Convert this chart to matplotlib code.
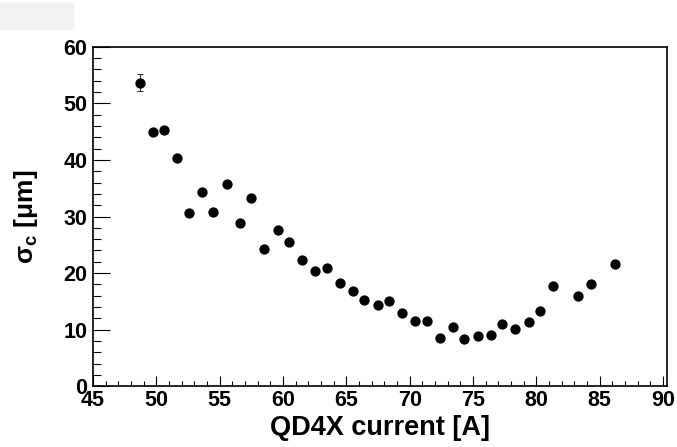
import matplotlib
matplotlib.use('Agg')
import matplotlib.pyplot as plt
from matplotlib.patches import Rectangle
from matplotlib.ticker import MultipleLocator

plt.rcParams['font.family'] = ['Liberation Sans', 'DejaVu Sans']
plt.rcParams['font.weight'] = 'bold'
plt.rcParams['mathtext.fontset'] = 'custom'
plt.rcParams['mathtext.bf'] = 'Liberation Sans:bold'
plt.rcParams['mathtext.rm'] = 'Liberation Sans:bold'

# QD4X current scan
current = [48.7, 49.7, 50.6, 51.6, 52.6, 53.6, 54.5, 55.6, 56.6, 57.5,
           58.5, 59.6, 60.5, 61.5, 62.5, 63.5, 64.5, 65.5, 66.4, 67.5,
           68.4, 69.4, 70.4, 71.4, 72.4, 73.4, 74.3, 75.4, 76.4, 77.3,
           78.3, 79.4, 80.3, 81.3, 83.3, 84.3, 86.2]
sigma_c = [53.6, 45.0, 45.3, 40.4, 30.6, 34.4, 30.8, 35.8, 28.8, 33.3,
           24.3, 27.7, 25.5, 22.3, 20.4, 20.9, 18.2, 16.8, 15.2, 14.4,
           15.0, 12.9, 11.5, 11.5, 8.6, 10.5, 8.3, 8.8, 9.0, 11.0,
           10.1, 11.3, 13.3, 17.7, 15.9, 18.1, 21.6]
sigma_err = [1.5] + [0.3] * (len(current) - 1)

xticks = [45, 50, 55, 60, 65, 70, 75, 80, 85, 90]
yticks = [0, 10, 20, 30, 40, 50, 60]

fig = plt.figure(figsize=(6.77, 4.47), dpi=100)
ax = fig.add_axes([0.1374, 0.1358, 0.8478, 0.7597])

# little grey box in the top left corner
fig.patches.append(Rectangle((0, 1 - 29/447), 73/677, 26/447,
                             transform=fig.transFigure, color='#f2f2f2',
                             zorder=0))

ax.errorbar(current, sigma_c, yerr=sigma_err, fmt='o', color='black',
            ecolor='#333333', elinewidth=0.8, capsize=2.5, capthick=0.8,
            markersize=6.4, zorder=3)

ax.set_xlim(45, 90.32)
ax.set_ylim(0, 60)
ax.set_xticks(xticks)
ax.set_yticks(yticks)
ax.xaxis.set_minor_locator(MultipleLocator(1))
ax.yaxis.set_minor_locator(MultipleLocator(2))

ax.tick_params(axis='both', which='both', direction='in', top=False, right=False,
               width=0.8, labelsize=15.5)
ax.tick_params(axis='y', which='major', length=12, pad=4)
ax.tick_params(axis='y', which='minor', length=6)
ax.tick_params(axis='x', which='major', length=7, pad=2.5)
ax.tick_params(axis='x', which='minor', length=3.6)
for sp in ax.spines.values():
    sp.set_linewidth(1.2)

ax.set_xlabel('QD4X current [A]', fontsize=19.5, fontweight='bold')
ax.xaxis.set_label_coords(0.5, -0.085)
ax.set_ylabel(r'σ$_\mathbf{c}$ [μm]', fontsize=19, fontweight='bold')
ax.yaxis.set_label_coords(-0.092, 0.5)

fig.savefig('out.png', dpi=100)
